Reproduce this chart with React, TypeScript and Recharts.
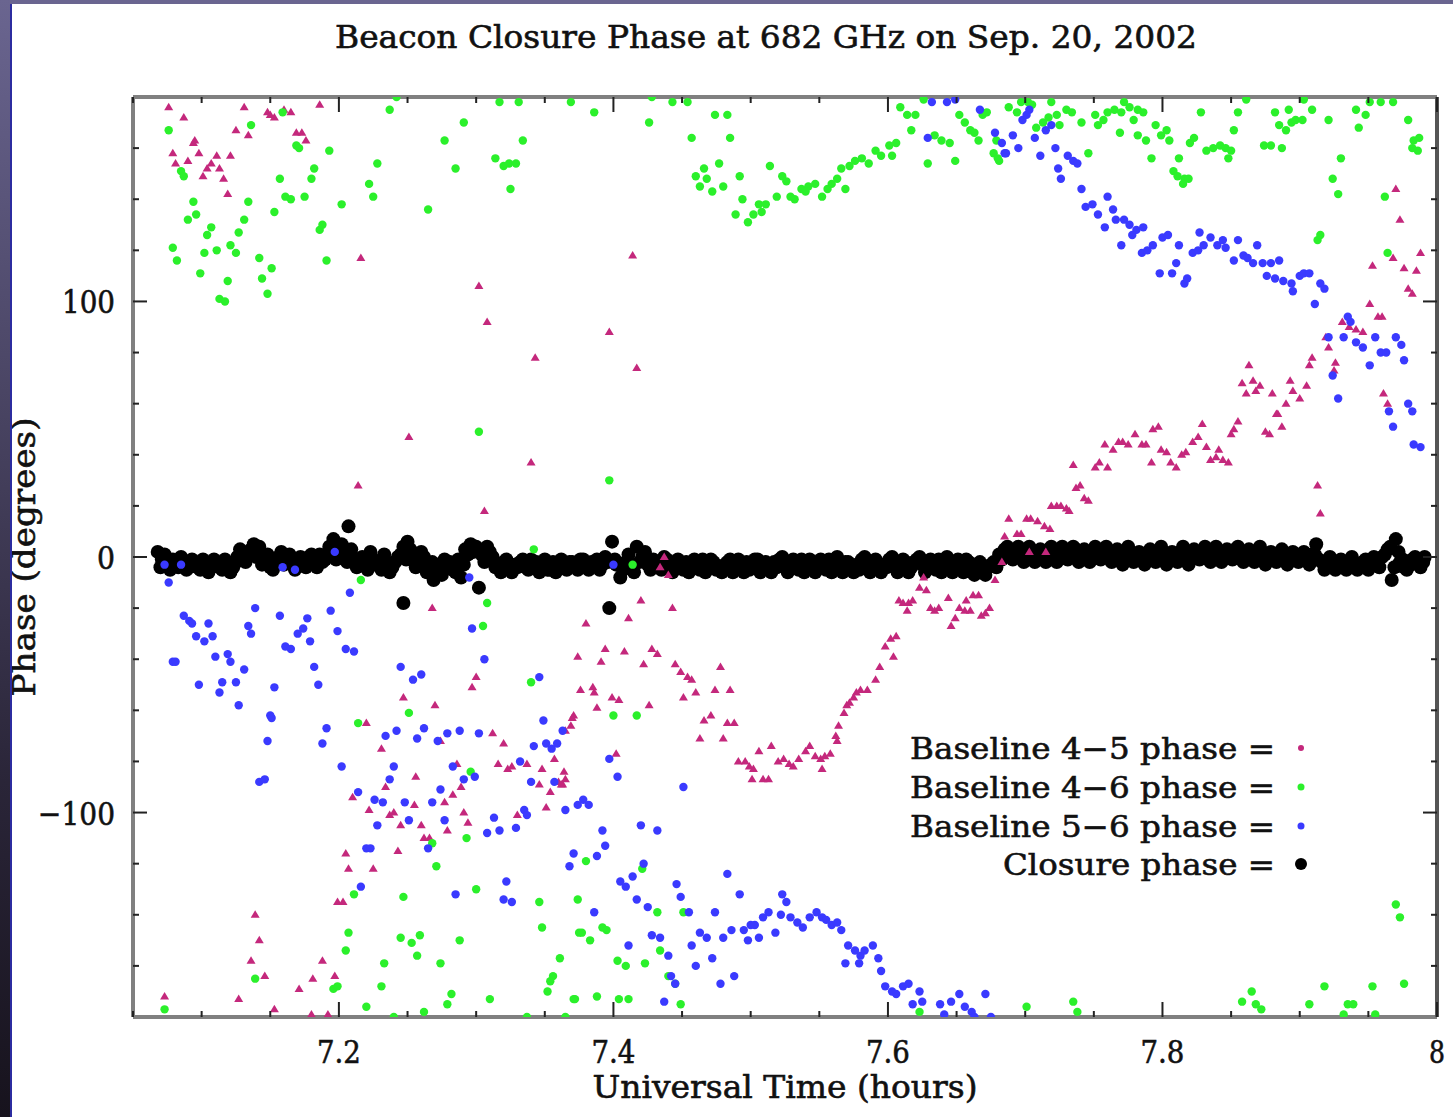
import React from 'react'
import { ScatterChart, Scatter, XAxis, YAxis } from 'recharts'

const W = 1453
const H = 1117

const xTicks = [7.05, 7.1, 7.15, 7.2, 7.25, 7.3, 7.35, 7.4, 7.45, 7.5, 7.55, 7.6, 7.65, 7.7, 7.75, 7.8, 7.85, 7.9, 7.95, 8]
const yTicks = [-160, -140, -120, -100, -80, -60, -40, -20, 0, 20, 40, 60, 80, 100, 120, 140, 160]
const xLabels: Record<string, string> = { '7.2': '7.2', '7.4': '7.4', '7.6': '7.6', '7.8': '7.8', '8': '8' }
const yLabels: Record<string, string> = { '100': '100', '0': '0', '-100': '\u2212100' }

// [UT hours, phase deg]
const closure = [
  [7.068, 2], [7.071, -1], [7.075, -3], [7.079, -1], [7.083, -4], [7.087, -2], [7.091, -4], [7.095, -2], [7.099, -5], [7.103, -3],
  [7.107, -4], [7.111, -2], [7.115, -5], [7.119, -3], [7.123, -4], [7.126, 0], [7.13, 2], [7.134, 1], [7.138, 5], [7.142, 4],
  [7.146, 0], [7.15, -4], [7.154, -2], [7.158, 2], [7.162, -1], [7.166, -3], [7.17, -1], [7.174, -3], [7.178, 0], [7.182, -2],
  [7.186, 1], [7.19, -1], [7.193, 4], [7.196, 7], [7.2, 3], [7.204, 1], [7.207, 12], [7.211, -1], [7.215, -3], [7.219, -1],
  [7.223, 2], [7.227, -3], [7.231, -5], [7.235, -2], [7.239, -4], [7.243, 0], [7.247, 4], [7.25, 6], [7.247, -18], [7.254, 1],
  [7.258, -2], [7.262, 0], [7.266, -4], [7.269, -9], [7.273, -3], [7.277, -1], [7.281, -2], [7.285, -6], [7.289, -8], [7.292, 3],
  [7.296, 5], [7.3, 4], [7.302, -12], [7.304, 1], [7.308, 4], [7.312, 0], [7.316, -3], [7.32, -2], [7.324, -5], [7.328, -3],
  [7.332, -2], [7.336, -4], [7.34, -1], [7.344, -2], [7.348, -3], [7.352, -5], [7.356, -2], [7.36, -3], [7.364, -4], [7.368, -2],
  [7.372, -3], [7.376, -1], [7.38, -4], [7.384, -2], [7.388, -1], [7.392, -3], [7.396, -2], [7.399, 6], [7.397, -20], [7.402, -3],
  [7.405, -8], [7.409, -2], [7.413, -3], [7.417, 4], [7.421, 0], [7.425, -3], [7.429, -1], [7.433, -4], [7.437, 0], [7.441, -2],
  [7.445, -4], [7.449, -3], [7.453, -2], [7.457, -4], [7.461, -3], [7.465, -1], [7.469, -3], [7.473, -2], [7.477, -4], [7.481, -3],
  [7.485, -1], [7.489, -3], [7.493, -4], [7.497, -2], [7.501, -3], [7.505, -1], [7.509, -3], [7.513, -4], [7.517, -2], [7.521, -1],
  [7.525, -3], [7.529, -4], [7.533, -2], [7.537, -1], [7.541, -3], [7.545, -2], [7.549, -4], [7.553, -3], [7.557, -1], [7.561, -3],
  [7.565, -4], [7.569, -2], [7.573, -5], [7.577, -3], [7.581, -1], [7.585, -3], [7.589, -2], [7.593, -4], [7.597, -3], [7.601, -1],
  [7.605, -2], [7.609, -3], [7.613, -2], [7.617, -4], [7.621, -1], [7.625, -3], [7.629, -2], [7.633, -4], [7.637, -1], [7.641, -3],
  [7.645, -2], [7.649, -4], [7.653, -3], [7.657, -1], [7.661, -4], [7.665, -3], [7.669, -5], [7.673, -4], [7.677, -2], [7.681, 1],
  [7.685, 3], [7.689, 0], [7.693, 2], [7.697, 1], [7.701, 3], [7.705, 0], [7.709, 2], [7.713, 1], [7.717, 3], [7.721, 0],
  [7.725, 2], [7.729, 1], [7.733, 2], [7.737, 3], [7.741, 1], [7.745, 0], [7.749, 2], [7.753, 3], [7.757, 1], [7.761, 2],
  [7.765, 0], [7.769, -1], [7.773, 1], [7.777, 2], [7.781, 0], [7.785, -1], [7.789, 1], [7.793, 2], [7.797, 0], [7.801, 1],
  [7.805, -1], [7.809, 0], [7.813, 2], [7.817, 1], [7.821, -1], [7.825, 1], [7.829, 2], [7.833, 3], [7.837, 1], [7.841, 2],
  [7.845, 0], [7.849, 1], [7.853, 3], [7.857, 1], [7.861, -1], [7.865, 0], [7.869, 2], [7.873, 1], [7.877, -1], [7.881, 0],
  [7.885, 1], [7.889, -1], [7.893, 0], [7.897, 1], [7.901, 0], [7.905, -1], [7.909, 1], [7.912, 5], [7.916, -2], [7.92, -3],
  [7.924, -2], [7.928, -4], [7.932, -3], [7.936, -2], [7.94, -4], [7.944, -3], [7.948, -1], [7.952, -3], [7.956, -2], [7.96, 0],
  [7.964, 3], [7.967, -9], [7.97, 7], [7.973, -2], [7.976, -4], [7.979, -3], [7.982, -1], [7.986, -2], [7.99, -2],
]

// second closure sample stream (interleaved in time)
const closureB = [
  [7.07, -4], [7.073, 1], [7.077, -5], [7.081, -2], [7.085, 0], [7.089, -5], [7.093, -1], [7.097, -4], [7.101, -1], [7.105, -6],
  [7.109, -1], [7.113, -4], [7.117, -1], [7.121, -6], [7.125, -2], [7.128, 3], [7.132, -2], [7.136, 3], [7.14, 0], [7.144, -3],
  [7.148, 1], [7.152, -5], [7.156, 0], [7.16, -3], [7.164, 1], [7.168, -5], [7.172, 0], [7.176, -4], [7.18, 1], [7.184, -4],
  [7.188, -2], [7.192, 1], [7.198, -1], [7.202, 5], [7.206, -2], [7.209, 3], [7.213, -4], [7.217, 0], [7.221, -5], [7.225, -1],
  [7.229, -2], [7.233, 1], [7.237, -6], [7.241, -2], [7.245, 1], [7.249, -1], [7.252, 3], [7.256, -4], [7.26, 2], [7.264, -6],
  [7.268, -2], [7.271, -5], [7.275, -7], [7.279, -3], [7.283, -5], [7.287, -1], [7.291, -3], [7.294, 1], [7.298, 2], [7.306, -2],
  [7.31, 2], [7.314, -4], [7.318, -6], [7.322, -1], [7.326, -6], [7.33, -4], [7.334, -1], [7.338, -5], [7.342, -3], [7.346, -6],
  [7.35, -1], [7.354, -5], [7.358, -6], [7.362, -1], [7.366, -5], [7.37, -2], [7.374, -5], [7.378, -1], [7.382, -5], [7.386, -3],
  [7.39, -5], [7.394, 0], [7.401, -1], [7.407, -5], [7.411, 1], [7.415, -6], [7.419, -2], [7.423, 2], [7.427, -5], [7.431, -2],
  [7.435, -5], [7.439, -1], [7.443, -6], [7.447, -1], [7.451, -5], [7.455, -6], [7.459, -1], [7.463, -5], [7.467, -6], [7.471, -1],
  [7.475, -5], [7.479, -6], [7.483, -2], [7.487, -6], [7.491, -1], [7.495, -6], [7.499, -5], [7.503, -1], [7.507, -6], [7.511, -2],
  [7.515, -6], [7.519, -4], [7.523, 0], [7.527, -6], [7.531, -1], [7.535, -5], [7.539, -6], [7.543, -1], [7.547, -6], [7.551, -1],
  [7.555, -5], [7.559, -6], [7.563, 0], [7.567, -6], [7.571, -2], [7.575, -6], [7.579, -5], [7.583, 0], [7.587, -6], [7.591, -1],
  [7.595, -6], [7.599, -4], [7.603, 0], [7.607, -6], [7.611, -1], [7.615, -6], [7.619, -2], [7.623, 0], [7.627, -6], [7.631, -1],
  [7.635, -5], [7.639, -6], [7.643, 0], [7.647, -6], [7.651, -1], [7.655, -6], [7.659, -2], [7.663, -7], [7.667, -2], [7.671, -7],
  [7.675, -3], [7.679, -4], [7.683, -1], [7.687, 4], [7.691, -1], [7.695, 4], [7.699, -2], [7.703, 4], [7.707, -2], [7.711, 3],
  [7.715, -2], [7.719, 4], [7.723, -2], [7.727, 4], [7.731, -1], [7.735, 4], [7.739, -2], [7.743, 3], [7.747, -2], [7.751, 4],
  [7.755, -1], [7.759, 4], [7.763, -2], [7.767, 3], [7.771, -3], [7.775, 4], [7.779, -2], [7.783, 2], [7.787, -3], [7.791, 3],
  [7.795, -2], [7.799, 4], [7.803, -3], [7.807, 2], [7.811, -2], [7.815, 4], [7.819, -3], [7.823, 3], [7.827, -1], [7.831, 4],
  [7.835, -2], [7.839, 4], [7.843, -2], [7.847, 3], [7.851, -1], [7.855, 4], [7.859, -2], [7.863, 3], [7.867, -2], [7.871, 4],
  [7.875, -3], [7.879, 2], [7.883, -2], [7.887, 3], [7.891, -3], [7.895, 2], [7.899, -2], [7.903, 2], [7.907, -3], [7.911, 1],
  [7.914, -1], [7.918, -5], [7.922, 0], [7.926, -5], [7.93, -1], [7.934, -5], [7.938, 0], [7.942, -5], [7.946, -2], [7.95, -5],
  [7.954, 0], [7.958, -4], [7.962, 1], [7.966, 4], [7.969, -4], [7.972, 2], [7.975, -1], [7.978, -5], [7.981, -3], [7.984, 0],
  [7.988, -4], [7.991, 0],
]

const base45 = [
  [7.076, 176], [7.087, 172], [7.131, 176], [7.148, 174], [7.15, 173], [7.153, 172], [7.16, 175], [7.165, 174], [7.186, 177], [7.125, 167],
  [7.134, 165], [7.095, 163], [7.094, 162], [7.079, 158], [7.081, 154], [7.09, 155], [7.098, 158], [7.111, 157], [7.121, 157], [7.107, 154],
  [7.104, 152], [7.101, 149], [7.113, 152], [7.116, 148], [7.119, 142], [7.169, 166], [7.173, 166], [7.176, 163], [7.216, 117], [7.302, 106],
  [7.308, 92], [7.343, 78], [7.414, 118], [7.397, 88], [7.417, 74], [7.251, 47], [7.214, 28], [7.34, 37], [7.306, 18], [7.268, -20],
  [7.3, -47], [7.297, -51], [7.247, -55], [7.27, -58], [7.437, 0], [7.434, -4], [7.44, -7], [7.42, -17], [7.411, -24], [7.443, -20],
  [7.38, -26], [7.394, -36], [7.391, -41], [7.408, -37], [7.374, -39], [7.428, -36], [7.432, -38], [7.422, -42], [7.445, -42], [7.449, -45],
  [7.454, -47], [7.457, -48], [7.478, -43], [7.474, -52], [7.485, -52], [7.46, -53], [7.451, -55], [7.376, -52], [7.385, -51], [7.386, -53],
  [7.399, -55], [7.404, -56], [7.388, -59], [7.426, -58], [7.371, -62], [7.466, -64], [7.471, -62], [7.463, -71], [7.48, -71], [7.483, -65],
  [7.488, -65], [7.491, -80], [7.496, -80], [7.499, -82], [7.502, -83], [7.501, -87], [7.509, -87], [7.513, -87], [7.506, -76], [7.515, -74],
  [7.52, -80], [7.524, -79], [7.528, -81], [7.531, -82], [7.535, -79], [7.54, -76], [7.543, -74], [7.547, -78], [7.551, -79], [7.554, -78],
  [7.558, -77], [7.552, -83], [7.37, -63], [7.369, -66], [7.365, -68], [7.402, -77], [7.364, -84], [7.365, -87], [7.363, -89], [7.564, -66],
  [7.562, -70], [7.563, -72], [7.568, -61], [7.57, -58], [7.572, -57], [7.575, -55], [7.577, -53], [7.58, -52], [7.585, -52], [7.591, -48],
  [7.594, -43], [7.604, -39], [7.598, -35], [7.602, -32], [7.606, -31], [7.608, -17], [7.611, -18], [7.614, -21], [7.615, -18], [7.618, -17],
  [7.623, -12], [7.626, -8], [7.628, -13], [7.631, -20], [7.634, -21], [7.637, -20], [7.644, -16], [7.646, -27], [7.649, -24], [7.652, -20],
  [7.656, -21], [7.657, -17], [7.66, -21], [7.662, -15], [7.666, -15], [7.668, -23], [7.671, -22], [7.674, -20], [7.678, -9], [7.683, -2],
  [7.685, 8], [7.688, 15], [7.694, 9], [7.697, 9], [7.701, 15], [7.703, 2], [7.704, 15], [7.709, 14], [7.714, 12], [7.715, 2],
  [7.718, 11], [7.719, 20], [7.723, 20], [7.726, 20], [7.73, 19], [7.732, 18], [7.735, 36], [7.737, 27], [7.74, 28], [7.743, 23],
  [7.746, 22], [7.751, 35], [7.754, 37], [7.758, 44], [7.76, 35], [7.764, 42], [7.768, 45], [7.771, 45], [7.775, 44], [7.78, 48],
  [7.785, 44], [7.788, 44], [7.792, 37], [7.793, 50], [7.797, 51], [7.799, 42], [7.803, 41], [7.806, 37], [7.81, 35], [7.814, 40],
  [7.817, 41], [7.822, 45], [7.826, 47], [7.829, 52], [7.832, 43], [7.835, 38], [7.839, 39], [7.841, 42], [7.844, 38], [7.848, 37],
  [7.85, 48], [7.852, 50], [7.855, 53], [7.875, 49], [7.878, 48], [7.884, 56], [7.887, 51], [7.913, 28], [7.915, 17], [7.858, 68],
  [7.861, 64], [7.863, 75], [7.866, 69], [7.868, 65], [7.871, 67], [7.88, 64], [7.883, 56], [7.89, 60], [7.893, 69], [7.895, 65],
  [7.9, 62], [7.905, 67], [7.907, 75], [7.909, 78], [7.919, 86], [7.921, 82], [7.925, 73], [7.926, 76], [7.931, 92], [7.936, 90],
  [7.941, 89], [7.946, 88], [7.951, 99], [7.957, 94], [7.96, 94], [7.961, 64], [7.964, 60], [7.953, 114], [7.968, 117], [7.97, 144],
  [7.973, 132], [7.976, 113], [7.979, 105], [7.982, 103], [7.985, 112], [7.988, 119], [7.22, -65], [7.231, -75], [7.234, -90], [7.21, -94],
  [7.222, -99], [7.237, -101], [7.24, -100], [7.245, -105], [7.255, -97], [7.256, -86], [7.26, -105], [7.262, -110], [7.266, -110], [7.274, -72],
  [7.277, -96], [7.279, -107], [7.283, -93], [7.286, -81], [7.289, -90], [7.291, -100], [7.294, -104], [7.312, -69], [7.32, -73], [7.316, -81],
  [7.323, -83], [7.326, -82], [7.337, -81], [7.33, -101], [7.348, -83], [7.357, -79], [7.354, -92], [7.36, -88], [7.362, -89], [7.346, -89],
  [7.351, -98], [7.205, -116], [7.207, -122], [7.225, -122], [7.243, -115], [7.199, -135], [7.203, -135], [7.139, -140], [7.142, -150], [7.136, -158],
  [7.146, -164], [7.188, -158], [7.181, -165], [7.197, -164], [7.171, -169], [7.073, -172], [7.127, -173], [7.153, -177], [7.18, -179], [7.192, -179],
]

const base46 = [
  [7.076, 167], [7.085, 151], [7.087, 149], [7.094, 139], [7.096, 134], [7.09, 132], [7.107, 129], [7.104, 126], [7.079, 121], [7.082, 116],
  [7.102, 119], [7.111, 120], [7.099, 111], [7.121, 122], [7.125, 119], [7.127, 127], [7.131, 132], [7.134, 139], [7.119, 108], [7.113, 101],
  [7.117, 100], [7.136, 169], [7.142, 117], [7.151, 113], [7.144, 109], [7.148, 103], [7.153, 135], [7.157, 148], [7.159, 174], [7.161, 141],
  [7.165, 140], [7.169, 161], [7.171, 160], [7.175, 141], [7.18, 148], [7.182, 152], [7.186, 128], [7.188, 130], [7.191, 116], [7.193, 159],
  [7.202, 138], [7.222, 146], [7.225, 141], [7.228, 154], [7.237, 175], [7.242, 180], [7.265, 136], [7.277, 163], [7.285, 152], [7.291, 170],
  [7.314, 156], [7.317, 178], [7.331, 178], [7.32, 153], [7.324, 154], [7.329, 154], [7.325, 144], [7.334, 163], [7.369, 178], [7.386, 174],
  [7.428, 180], [7.426, 170], [7.443, 178], [7.454, 178], [7.457, 164], [7.474, 173], [7.483, 173], [7.485, 164], [7.46, 149], [7.466, 152],
  [7.468, 148], [7.463, 145], [7.472, 143], [7.477, 154], [7.48, 145], [7.492, 149], [7.494, 140], [7.489, 134], [7.498, 131], [7.502, 134],
  [7.506, 138], [7.511, 138], [7.508, 135], [7.514, 153], [7.519, 141], [7.523, 149], [7.526, 147], [7.529, 141], [7.532, 140], [7.537, 144],
  [7.542, 145], [7.547, 146], [7.54, 143], [7.552, 141], [7.556, 144], [7.559, 146], [7.563, 148], [7.566, 152], [7.572, 153], [7.569, 144],
  [7.576, 155], [7.581, 156], [7.586, 154], [7.591, 159], [7.595, 157], [7.601, 161], [7.606, 162], [7.603, 157], [7.609, 176], [7.614, 173],
  [7.62, 173], [7.617, 167], [7.626, 179], [7.629, 154], [7.634, 165], [7.639, 163], [7.645, 162], [7.649, 155], [7.652, 173], [7.656, 170],
  [7.66, 167], [7.663, 166], [7.666, 163], [7.669, 173], [7.672, 174], [7.677, 158], [7.681, 155], [7.688, 176], [7.694, 174], [7.697, 178],
  [7.702, 178], [7.705, 177], [7.679, 163], [7.68, 156], [7.708, 168], [7.713, 170], [7.717, 172], [7.719, 178], [7.723, 173], [7.725, 169],
  [7.73, 175], [7.734, 174], [7.741, 170], [7.746, 158], [7.751, 173], [7.753, 169], [7.757, 171], [7.76, 174], [7.765, 175], [7.77, 174],
  [7.772, 178], [7.776, 176], [7.782, 175], [7.786, 174], [7.779, 171], [7.769, 166], [7.782, 165], [7.788, 163], [7.795, 169], [7.799, 165],
  [7.803, 167], [7.805, 163], [7.792, 156], [7.812, 156], [7.808, 151], [7.811, 149], [7.816, 148], [7.815, 146], [7.819, 148], [7.82, 162],
  [7.823, 164], [7.828, 174], [7.832, 159], [7.837, 160], [7.842, 161], [7.846, 160], [7.85, 159], [7.848, 156], [7.852, 167], [7.855, 174],
  [7.861, 179], [7.874, 161], [7.879, 161], [7.887, 160], [7.882, 174], [7.885, 169], [7.89, 167], [7.894, 170], [7.897, 171], [7.902, 171],
  [7.892, 175], [7.903, 179], [7.909, 175], [7.921, 171], [7.93, 156], [7.924, 148], [7.928, 142], [7.941, 175], [7.948, 173], [7.943, 168],
  [7.951, 178], [7.959, 178], [7.968, 178], [7.962, 141], [7.979, 171], [7.983, 163], [7.987, 164], [7.986, 159], [7.982, 160], [7.913, 124],
  [7.915, 126], [7.964, 119], [7.302, 49], [7.342, 3], [7.216, -9], [7.308, -18], [7.305, -27], [7.34, -49], [7.251, -61], [7.397, 30],
  [7.414, -3], [7.4, -62], [7.417, -62], [7.214, -65], [7.296, -84], [7.268, -112], [7.293, -110], [7.271, -121], [7.211, -132], [7.247, -133],
  [7.3, -130], [7.346, -135], [7.374, -134], [7.207, -147], [7.205, -154], [7.245, -149], [7.253, -151], [7.259, -148], [7.257, -156], [7.288, -150],
  [7.348, -145], [7.375, -147], [7.233, -159], [7.274, -159], [7.361, -157], [7.356, -164], [7.354, -166], [7.352, -170], [7.139, -165], [7.196, -169],
  [7.199, -168], [7.231, -168], [7.282, -171], [7.279, -175], [7.31, -173], [7.371, -173], [7.073, -177], [7.22, -176], [7.262, -178], [7.24, -180],
  [7.337, -180], [7.365, -180], [7.38, -119], [7.421, -122], [7.432, -139], [7.451, -139], [7.377, -147], [7.383, -150], [7.392, -145], [7.395, -146],
  [7.403, -158], [7.409, -160], [7.423, -159], [7.434, -154], [7.44, -164], [7.445, -167], [7.372, -173], [7.388, -172], [7.404, -173], [7.411, -173],
  [7.449, -175], [7.623, -178], [7.701, -176], [7.735, -174], [7.738, -178], [7.865, -170], [7.858, -174], [7.868, -175], [7.872, -177], [7.907, -175],
  [7.918, -168], [7.935, -175], [7.939, -175], [7.932, -179], [7.953, -168], [7.955, -179], [7.976, -167], [7.97, -136], [7.973, -141],
]

const base56 = [
  [7.073, -3], [7.085, -3], [7.076, -10], [7.087, -23], [7.091, -25], [7.093, -26], [7.105, -26], [7.096, -31], [7.102, -33], [7.108, -31],
  [7.079, -41], [7.081, -41], [7.11, -39], [7.119, -38], [7.121, -41], [7.131, -44], [7.098, -50], [7.115, -49], [7.125, -49], [7.113, -53],
  [7.127, -58], [7.134, -27], [7.136, -30], [7.139, -20], [7.15, -62], [7.153, -51], [7.157, -23], [7.159, -4], [7.168, -5], [7.161, -35],
  [7.165, -36], [7.17, -30], [7.174, -28], [7.177, -24], [7.179, -33], [7.182, -43], [7.185, -50], [7.194, -21], [7.197, 2], [7.199, -29],
  [7.205, -36], [7.211, -37], [7.208, -14], [7.245, -43], [7.254, -48], [7.26, -46], [7.295, -8], [7.297, -28], [7.306, -40], [7.346, -47],
  [7.349, -64], [7.151, -63], [7.148, -72], [7.142, -88], [7.146, -87], [7.188, -73], [7.191, -67], [7.202, -82], [7.214, -92], [7.226, -95],
  [7.232, -96], [7.228, -105], [7.22, -114], [7.223, -114], [7.216, -129], [7.234, -70], [7.242, -68], [7.237, -87], [7.24, -82], [7.248, -96],
  [7.251, -103], [7.257, -71], [7.262, -67], [7.268, -96], [7.272, -72], [7.274, -91], [7.277, -103], [7.265, -114], [7.279, -69], [7.288, -68],
  [7.283, -82], [7.291, -87], [7.299, -86], [7.285, -132], [7.302, -69], [7.308, -108], [7.313, -102], [7.317, -107], [7.322, -127], [7.32, -134],
  [7.326, -135], [7.329, -106], [7.332, -80], [7.335, -99], [7.337, -101], [7.34, -88], [7.342, -74], [7.351, -73], [7.355, -75], [7.359, -73],
  [7.357, -88], [7.363, -68], [7.365, -99], [7.371, -116], [7.368, -121], [7.374, -97], [7.378, -95], [7.382, -97], [7.392, -107], [7.394, -113],
  [7.388, -117], [7.386, -139], [7.397, -79], [7.403, -86], [7.451, -90], [7.42, -105], [7.432, -107], [7.422, -120], [7.405, -127], [7.409, -129],
  [7.414, -125], [7.417, -134], [7.425, -137], [7.411, -152], [7.428, -148], [7.434, -149], [7.44, -156], [7.437, -174], [7.442, -164], [7.445, -167],
  [7.446, -128], [7.449, -133], [7.455, -139], [7.474, -139], [7.457, -152], [7.463, -147], [7.468, -149], [7.46, -160], [7.472, -157], [7.478, -167],
  [7.488, -164], [7.48, -149], [7.486, -146], [7.483, -124], [7.492, -132], [7.495, -146], [7.5, -144], [7.503, -144], [7.498, -150], [7.506, -149],
  [7.509, -141], [7.513, -139], [7.518, -147], [7.522, -140], [7.523, -132], [7.526, -135], [7.529, -141], [7.534, -143], [7.538, -145], [7.543, -141],
  [7.548, -139], [7.552, -141], [7.555, -142], [7.559, -144], [7.563, -143], [7.566, -146], [7.571, -152], [7.576, -154], [7.58, -156], [7.583, -154],
  [7.589, -152], [7.593, -157], [7.569, -159], [7.579, -159], [7.595, -162], [7.598, -168], [7.603, -170], [7.606, -171], [7.611, -168], [7.615, -167],
  [7.623, -170], [7.618, -175], [7.625, -174], [7.638, -175], [7.641, -179], [7.646, -174], [7.652, -171], [7.656, -176], [7.661, -178], [7.663, -180],
  [7.671, -171], [7.675, -180], [7.4, -3], [7.632, 178], [7.643, 178], [7.649, 179], [7.667, 175], [7.629, 164], [7.678, 166], [7.683, 162],
  [7.686, 158], [7.691, 165], [7.695, 160], [7.685, 158], [7.698, 171], [7.701, 173], [7.703, 175], [7.707, 164], [7.711, 157], [7.715, 167],
  [7.719, 169], [7.722, 160], [7.724, 152], [7.726, 148], [7.731, 157], [7.735, 155], [7.738, 154], [7.741, 144], [7.744, 137], [7.749, 138],
  [7.753, 134], [7.76, 141], [7.764, 136], [7.766, 132], [7.758, 129], [7.772, 132], [7.776, 130], [7.781, 128], [7.778, 126], [7.786, 129],
  [7.77, 122], [7.785, 119], [7.793, 122], [7.789, 120], [7.8, 125], [7.804, 126], [7.798, 111], [7.807, 111], [7.81, 115], [7.812, 122],
  [7.816, 107], [7.818, 109], [7.822, 119], [7.826, 120], [7.83, 122], [7.827, 127], [7.835, 125], [7.84, 122], [7.844, 124], [7.846, 121],
  [7.855, 124], [7.852, 116], [7.859, 118], [7.862, 117], [7.866, 115], [7.869, 122], [7.873, 115], [7.879, 115], [7.885, 116], [7.876, 110],
  [7.882, 109], [7.888, 108], [7.894, 107], [7.895, 104], [7.9, 110], [7.903, 111], [7.907, 111], [7.915, 107], [7.918, 105], [7.911, 99],
  [7.935, 94], [7.937, 92], [7.921, 86], [7.932, 86], [7.941, 84], [7.946, 82], [7.955, 86], [7.959, 80], [7.963, 80], [7.951, 75],
  [7.97, 86], [7.974, 83], [7.976, 77], [7.924, 71], [7.928, 62], [7.965, 57], [7.979, 60], [7.982, 57], [7.968, 51], [7.983, 44],
  [7.988, 43],
]

const pts = (arr: number[][]) => arr.map(([t, p]) => ({ t, p }))

const C45 = '#c4287c'
const C46 = '#2bf02b'
const C56 = '#3a3aff'
const FONT = "'DejaVu Serif', serif"
const AXIS = '#808080'
const TICK = '#222'
const INK = '#111'

const isMajorX = (v: number) => Math.abs(v * 5 - Math.round(v * 5)) < 1e-6
const isMajorY = (v: number) => v % 100 === 0

const BottomTick = (props: any) => {
  const { x, y, payload } = props
  const major = isMajorX(payload.value)
  const key = String(Math.round(payload.value * 100) / 100)
  return (
    <g>
      <line x1={x} x2={x} y1={y} y2={y - (major ? 15 : 6)} stroke={TICK} strokeWidth={2} />
      {major && xLabels[key] && (
        <text x={x} y={y + 46} textAnchor="middle" fontFamily={FONT} fontSize={32} fill={INK} stroke={INK}
          strokeWidth={0.6} textLength={xLabels[key].length === 1 ? 16 : 44} lengthAdjust="spacingAndGlyphs">
          {xLabels[key]}
        </text>
      )}
    </g>
  )
}

const TopTick = (props: any) => {
  const { x, y, payload } = props
  const major = isMajorX(payload.value)
  return <line x1={x} x2={x} y1={y} y2={y + (major ? 15 : 6)} stroke={TICK} strokeWidth={2} />
}

const LeftTick = (props: any) => {
  const { x, y, payload } = props
  const major = isMajorY(payload.value)
  const lab = yLabels[String(payload.value)]
  return (
    <g>
      <line x1={x} x2={x + (major ? 14 : 6)} y1={y} y2={y} stroke={TICK} strokeWidth={2} />
      {major && lab && (
        <text x={x - 18} y={y + 12} textAnchor="end" fontFamily={FONT} fontSize={32} fill={INK} stroke={INK}
          strokeWidth={0.6} textLength={lab.length === 1 ? 18 : lab.length === 3 ? 53 : 77} lengthAdjust="spacingAndGlyphs">
          {lab}
        </text>
      )}
    </g>
  )
}

const RightTick = (props: any) => {
  const { x, y, payload } = props
  const major = isMajorY(payload.value)
  return <line x1={x} x2={x - (major ? 14 : 6)} y1={y} y2={y} stroke={TICK} strokeWidth={2} />
}

const dot = (color: string, r: number) => (props: any) => (
  <circle cx={props.cx} cy={props.cy} r={r} fill={color} />
)

const tri = (color: string) => (props: any) => {
  const { cx, cy } = props
  return <path d={`M${cx},${cy - 4.5}L${cx + 4.5},${cy + 3}L${cx - 4.5},${cy + 3}Z`} fill={color} />
}

const legendRows = [
  { text: 'Baseline 4\u22125 phase =', len: 365, color: C45, r: 3, y: 748 },
  { text: 'Baseline 4\u22126 phase =', len: 365, color: C46, r: 3.5, y: 787 },
  { text: 'Baseline 5\u22126 phase =', len: 365, color: C56, r: 3.5, y: 826 },
  { text: 'Closure phase =', len: 272, color: '#000', r: 6, y: 864 },
]

export default function App() {
  return (
    <div style={{ position: 'absolute', left: 0, top: 0, width: W, height: H, background: '#fff', overflow: 'hidden' }}>
      <ScatterChart width={W} height={H} margin={{ top: 87, right: 11, bottom: 40, left: 13 }}>
        <XAxis xAxisId="x" type="number" dataKey="t" domain={[7.05, 8]} allowDataOverflow ticks={xTicks} interval={0}
          height={60} tickSize={0} tickMargin={0} tickLine={false} tick={<BottomTick />}
          axisLine={{ stroke: AXIS, strokeWidth: 4 }} />
        <XAxis xAxisId="xt" orientation="top" type="number" dataKey="t" domain={[7.05, 8]} allowDataOverflow ticks={xTicks}
          interval={0} height={10} tickSize={0} tickMargin={0} tickLine={false} tick={<TopTick />}
          axisLine={{ stroke: AXIS, strokeWidth: 4 }} />
        <YAxis yAxisId="y" type="number" dataKey="p" domain={[-180, 180]} allowDataOverflow ticks={yTicks} interval={0}
          width={120} tickSize={0} tickMargin={0} tickLine={false} tick={<LeftTick />}
          axisLine={{ stroke: AXIS, strokeWidth: 4 }} />
        <YAxis yAxisId="yr" orientation="right" type="number" dataKey="p" domain={[-180, 180]} allowDataOverflow ticks={yTicks}
          interval={0} width={5} tickSize={0} tickMargin={0} tickLine={false} tick={<RightTick />}
          axisLine={{ stroke: '#555', strokeWidth: 4 }} />
        <Scatter xAxisId="x" yAxisId="y" data={pts(closure)} fill="#000" shape={dot('#000', 7)} isAnimationActive={false} />
        <Scatter xAxisId="x" yAxisId="y" data={pts(closureB)} fill="#000" shape={dot('#000', 7)} isAnimationActive={false}
          legendType="none" />
        <Scatter xAxisId="x" yAxisId="y" data={pts(base45)} fill={C45} shape={tri(C45)} isAnimationActive={false} />
        <Scatter xAxisId="x" yAxisId="y" data={pts(base46)} fill={C46} shape={dot(C46, 4.2)} isAnimationActive={false} />
        <Scatter xAxisId="x" yAxisId="y" data={pts(base56)} fill={C56} shape={dot(C56, 4.2)} isAnimationActive={false} />
      </ScatterChart>

      <svg width={W} height={H} style={{ position: 'absolute', left: 0, top: 0, pointerEvents: 'none' }}>
        <text x={766} y={48} textAnchor="middle" fontFamily={FONT} fontSize={31} fill={INK} stroke={INK} strokeWidth={0.6}
          textLength={862} lengthAdjust="spacingAndGlyphs">
          Beacon Closure Phase at 682 GHz on Sep. 20, 2002
        </text>
        <text x={785} y={1098} textAnchor="middle" fontFamily={FONT} fontSize={31} fill={INK} stroke={INK} strokeWidth={0.6}
          textLength={385} lengthAdjust="spacingAndGlyphs">
          Universal Time (hours)
        </text>
        <text x={35} y={557} transform="rotate(-90 35 557)" textAnchor="middle" fontFamily={FONT} fontSize={31}
          fill={INK} stroke={INK} strokeWidth={0.6} textLength={279} lengthAdjust="spacingAndGlyphs">
          Phase (degrees)
        </text>
        {legendRows.map((r) => (
          <g key={r.text}>
            <text x={1275} y={r.y + 11} textAnchor="end" fontFamily={FONT} fontSize={30} fill={INK} stroke={INK}
              strokeWidth={0.6} textLength={r.len} lengthAdjust="spacingAndGlyphs">
              {r.text}
            </text>
            <circle cx={1301} cy={r.y} r={r.r} fill={r.color} />
          </g>
        ))}
      </svg>

      <div style={{ position: 'absolute', left: 0, top: 0, width: W, height: 4, background: '#6a6590' }} />
      <div style={{ position: 'absolute', left: 0, top: 0, width: 10, height: H,
        background: 'linear-gradient(#6a6590, #2a2538 70%, #17131d)' }} />
      <div style={{ position: 'absolute', left: 10, top: 4, width: 2, height: H, background: '#2c2ca0' }} />
    </div>
  )
}
